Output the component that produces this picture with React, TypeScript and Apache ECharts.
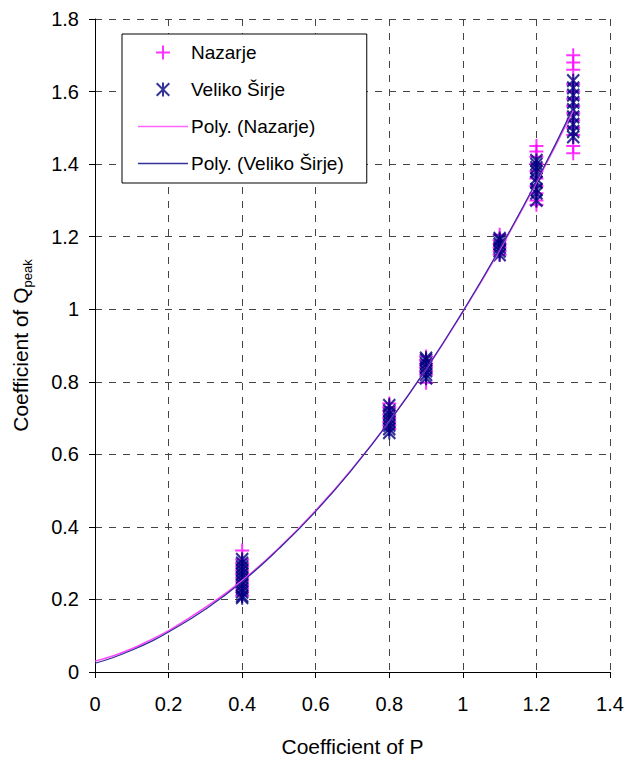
import React, { useEffect, useRef } from "react";
import * as echarts from "echarts";

const xTicks = [0, 0.2, 0.4, 0.6, 0.8, 1.0, 1.2, 1.4];
const yTicks = [0, 0.2, 0.4, 0.6, 0.8, 1.0, 1.2, 1.4, 1.6, 1.8];

// Scatter observations: [coefficient of P, coefficient of Qpeak]
const nazarjeX = [
  0.4, 0.4, 0.4, 0.4, 0.4, 0.4, 0.4, 0.4, 0.4, 0.4, 0.4, 0.4,
  0.8, 0.8, 0.8, 0.8, 0.8, 0.8, 0.8, 0.8,
  0.9, 0.9, 0.9, 0.9, 0.9, 0.9, 0.9,
  1.1, 1.1, 1.1, 1.1, 1.1, 1.1,
  1.2, 1.2, 1.2, 1.2, 1.2, 1.2, 1.2, 1.2, 1.2, 1.2,
  1.3, 1.3, 1.3, 1.3, 1.3, 1.3, 1.3, 1.3, 1.3, 1.3, 1.3, 1.3, 1.3,
];
const nazarjeY = [
  0.335, 0.3, 0.28, 0.27, 0.26, 0.25, 0.24, 0.23, 0.22, 0.29, 0.31, 0.21,
  0.74, 0.72, 0.7, 0.69, 0.68, 0.67, 0.71, 0.73,
  0.797, 0.82, 0.84, 0.85, 0.86, 0.83, 0.87,
  1.205, 1.18, 1.17, 1.16, 1.19, 1.15,
  1.45, 1.435, 1.42, 1.4, 1.38, 1.36, 1.34, 1.32, 1.3, 1.288,
  1.7, 1.68, 1.66, 1.62, 1.6, 1.58, 1.56, 1.54, 1.52, 1.5, 1.48, 1.45, 1.43,
];
const velikoX = [
  0.4, 0.4, 0.4, 0.4, 0.4, 0.4, 0.4, 0.4, 0.4, 0.4, 0.4, 0.4,
  0.8, 0.8, 0.8, 0.8, 0.8, 0.8, 0.8, 0.8,
  0.9, 0.9, 0.9, 0.9, 0.9, 0.9, 0.9,
  1.1, 1.1, 1.1, 1.1, 1.1, 1.1,
  1.2, 1.2, 1.2, 1.2, 1.2, 1.2, 1.2, 1.2, 1.2,
  1.3, 1.3, 1.3, 1.3, 1.3, 1.3, 1.3, 1.3, 1.3,
];
const velikoY = [
  0.21, 0.22, 0.23, 0.24, 0.25, 0.26, 0.27, 0.28, 0.29, 0.3, 0.31, 0.205,
  0.66, 0.67, 0.68, 0.69, 0.7, 0.71, 0.72, 0.735,
  0.81, 0.82, 0.83, 0.84, 0.85, 0.86, 0.865,
  1.15, 1.16, 1.17, 1.18, 1.19, 1.195,
  1.3, 1.32, 1.33, 1.35, 1.36, 1.38, 1.39, 1.4, 1.41,
  1.475, 1.49, 1.51, 1.53, 1.55, 1.57, 1.59, 1.61, 1.63,
];

// Polynomial trendlines
const polyX = [0, 0.05, 0.1, 0.15, 0.2, 0.3, 0.4, 0.5, 0.6, 0.7, 0.8, 0.9, 1.0, 1.1, 1.2, 1.3];
const polyNazarje = [0.03, 0.045, 0.064, 0.088, 0.114, 0.178, 0.252, 0.342, 0.445, 0.561, 0.691, 0.834, 0.993, 1.163, 1.349, 1.548];
const polyVeliko = [0.024, 0.04, 0.06, 0.083, 0.11, 0.173, 0.249, 0.34, 0.443, 0.56, 0.69, 0.835, 0.994, 1.166, 1.352, 1.555];

const FONT = "Liberation Sans, Arial, sans-serif";
const plusPath = "path://M0,5 L10,5 M5,0 L5,10";
const starPath = "path://M0.5,0.5 L9.5,9.5 M9.5,0.5 L0.5,9.5 M5,0 L5,10";
const lineIcon = "path://M0,0 L50,0 L50,1.6 L0,1.6 Z";

const zip = (xs: number[], ys: number[]) => xs.map((x, i) => [x, ys[i]]);
const fmt = (v: number) => String(Number(v.toFixed(1)));

export default function App() {
  const ref = useRef<HTMLDivElement>(null);
  useEffect(() => {
    if (!ref.current) return;
    const chart = echarts.init(ref.current, null, { renderer: "svg" });
    const gridLine = { show: true, lineStyle: { color: "#444", type: [7, 7] as any, width: 1 } };
    chart.setOption({
      animation: false,
      backgroundColor: "#fff",
      grid: { left: 95, top: 19, right: 19, bottom: 90, containLabel: false, outerBoundsMode: "none" },
      legend: {
        orient: "vertical",
        left: 122,
        top: 34,
        padding: [9, 23, 10, 16],
        itemGap: 18,
        itemWidth: 50,
        itemHeight: 14,
        symbolKeepAspect: true,
        backgroundColor: "#fff",
        borderColor: "#000",
        borderWidth: 1,
        borderRadius: 0,
        textStyle: { fontFamily: FONT, fontSize: 19, color: "#000", padding: [0, 0, 0, -2] },
        data: [
          { name: "Nazarje" },
          { name: "Veliko Širje" },
          { name: "Poly. (Nazarje)", icon: lineIcon },
          { name: "Poly. (Veliko Širje)", icon: lineIcon },
        ],
      },
      xAxis: {
        type: "value",
        min: 0,
        max: 1.4,
        interval: 0.2,
        name: "Coefficient of P",
        nameLocation: "middle",
        nameGap: 64,
        nameTextStyle: { fontFamily: FONT, fontSize: 21, color: "#000" },
        axisLine: { show: true, onZero: false, lineStyle: { color: "#000", width: 1 } },
        axisTick: { show: true, length: 6, lineStyle: { color: "#000" } },
        axisLabel: { fontFamily: FONT, fontSize: 20, color: "#000", margin: 22, formatter: fmt },
        splitLine: gridLine,
      },
      yAxis: {
        type: "value",
        min: 0,
        max: 1.8,
        interval: 0.2,
        name: "{a|Coefficient of Q}{b|peak}",
        nameLocation: "middle",
        nameGap: 62,
        nameTextStyle: {
          fontFamily: FONT,
          color: "#000",
          rich: {
            a: { fontFamily: FONT, fontSize: 21, color: "#000", lineHeight: 26 },
            b: { fontFamily: FONT, fontSize: 13, color: "#000", lineHeight: 26, padding: [14, 0, 0, 0] },
          },
        },
        axisLine: { show: true, onZero: false, lineStyle: { color: "#000", width: 1 } },
        axisTick: { show: true, length: 6, lineStyle: { color: "#000" } },
        axisLabel: { fontFamily: FONT, fontSize: 20, color: "#000", margin: 16, formatter: fmt },
        splitLine: gridLine,
      },
      series: [
        {
          name: "Nazarje",
          type: "scatter",
          symbol: plusPath,
          symbolSize: 14,
          itemStyle: { color: "rgba(0,0,0,0)", borderColor: "#FF00FF", borderWidth: 2 },
          data: zip(nazarjeX, nazarjeY),
          z: 3,
        },
        {
          name: "Veliko Širje",
          type: "scatter",
          symbol: starPath,
          symbolSize: [12, 14],
          itemStyle: { color: "rgba(0,0,0,0)", borderColor: "#000080", borderWidth: 2.2 },
          data: zip(velikoX, velikoY),
          z: 4,
        },
        {
          name: "Poly. (Nazarje)",
          type: "line",
          symbol: "none",
          smooth: true,
          lineStyle: { color: "#FF44FF", width: 1.5 },
          itemStyle: { color: "#FF66FF" },
          data: zip(polyX, polyNazarje),
          z: 5,
        },
        {
          name: "Poly. (Veliko Širje)",
          type: "line",
          symbol: "none",
          smooth: true,
          lineStyle: { color: "#2E2E99", width: 1.2 },
          itemStyle: { color: "#333399" },
          data: zip(polyX, polyVeliko),
          z: 6,
        },
      ],
    });
    return () => chart.dispose();
  }, []);
  return <div ref={ref} style={{ width: 629, height: 762, position: "absolute", left: 0, top: 0 }} />;
}
